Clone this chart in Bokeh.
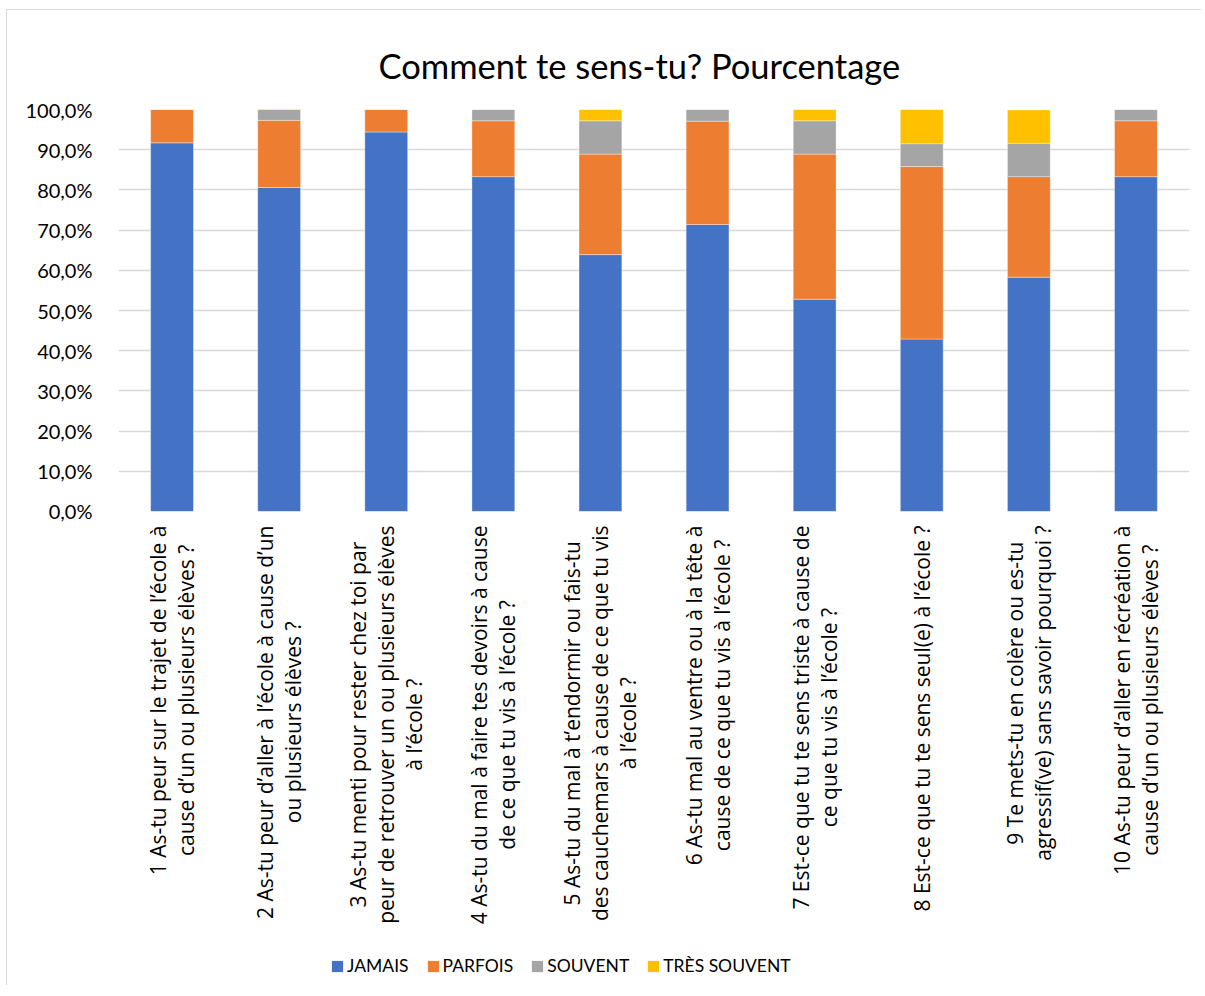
import math
from bokeh.plotting import figure
from bokeh.layouts import column
from bokeh.models import (FactorRange, Range1d, FixedTicker, ColumnDataSource,
                          Legend, LegendItem)
from bokeh.core.properties import value
from bokeh.embed import file_html
from bokeh.resources import INLINE

categories = [
    "1 As-tu peur sur le trajet de l’école à\ncause d’un ou plusieurs élèves ?",
    "2 As-tu peur d’aller à l’école à cause d’un\nou plusieurs élèves ?",
    "3 As-tu menti pour rester chez toi par\npeur de retrouver un ou plusieurs élèves\nà l’école ?",
    "4 As-tu du mal à faire tes devoirs à cause\nde ce que tu vis à l’école ?",
    "5 As-tu du mal à t’endormir ou fais-tu\ndes cauchemars à cause de ce que tu vis\nà l’école ?",
    "6 As-tu mal au ventre ou à la tête à\ncause de ce que tu vis à l’école ?",
    "7 Est-ce que tu te sens triste à cause de\nce que tu vis à l’école ?",
    "8 Est-ce que tu te sens seul(e) à l’école ?",
    "9 Te mets-tu en colère ou es-tu\nagressif(ve) sans savoir pourquoi ?",
    "10 As-tu peur d’aller en récréation à\ncause d’un ou plusieurs élèves ?",
]
jamais = [91.7, 80.6, 94.4, 83.3, 63.9, 71.4, 52.8, 42.9, 58.3, 83.3]
parfois = [8.3, 16.7, 5.6, 13.9, 25.0, 25.7, 36.1, 42.9, 25.0, 13.9]
souvent = [0.0, 2.8, 0.0, 2.8, 8.3, 2.9, 8.3, 5.7, 8.3, 2.8]
tres_souvent = [0.0, 0.0, 0.0, 0.0, 2.8, 0.0, 2.8, 8.6, 8.3, 0.0]
series_names = ["JAMAIS", "PARFOIS", "SOUVENT", "TRÈS SOUVENT"]
colors = ["#4472C4", "#ED7D31", "#A5A5A5", "#FFC000"]
y_ticks = [0, 10, 20, 30, 40, 50, 60, 70, 80, 90, 100]
y_tick_labels = ["0,0%", "10,0%", "20,0%", "30,0%", "40,0%", "50,0%",
                 "60,0%", "70,0%", "80,0%", "90,0%", "100,0%"]

source = ColumnDataSource(dict(cat=categories, JAMAIS=jamais, PARFOIS=parfois,
                               SOUVENT=souvent, **{"TRÈS SOUVENT": tres_souvent}))

BORDER = "1px solid #D9D9D9"

# ---- main chart (bars, y axis, title) ----
p = figure(frame_width=1070, frame_height=401, output_backend="svg",
           toolbar_location=None, x_range=FactorRange(factors=categories),
           y_range=Range1d(0, 100), x_axis_location=None,
           min_border_left=111, min_border_right=13, min_border_top=99,
           min_border_bottom=12, title="Comment te sens-tu? Pourcentage")

renderers = p.vbar_stack(series_names, x="cat", width=0.4, source=source,
                         color=colors, line_color="white", line_width=0.6,
                         line_alpha=0.6)

p.title.align = "left"
p.title.offset = 260
p.title.text_font = "Lato"
p.title.text_font_style = "normal"
p.title.text_font_size = "34.5px"
p.title.text_color = "#000000"
p.title.standoff = 48

p.outline_line_color = None
p.xgrid.grid_line_color = None
p.ygrid.grid_line_color = "#D9D9D9"
p.ygrid.grid_line_width = 1.3

p.yaxis.ticker = FixedTicker(ticks=y_ticks)
p.yaxis.major_label_overrides = {t: l for t, l in zip(y_ticks, y_tick_labels)}
p.yaxis.axis_line_color = None
p.yaxis.major_tick_line_color = None
p.yaxis.minor_tick_line_color = None
p.yaxis.major_label_text_font = "Lato"
p.yaxis.major_label_text_font_size = "20px"
p.yaxis.major_label_text_color = "#000000"
p.yaxis.major_label_standoff = 20
p.styles = {"border-left": BORDER, "border-top": BORDER}

# ---- category labels and legend, sharing the same x scale ----
q = figure(frame_width=1070, frame_height=463, output_backend="svg",
           toolbar_location=None, x_range=p.x_range, y_range=Range1d(0, 463),
           x_axis_location=None, y_axis_location=None, title=None,
           min_border_left=111, min_border_right=13, min_border_top=0,
           min_border_bottom=0)
q.grid.visible = False
q.outline_line_color = None

q.text(x="cat", y=460, text="cat", source=source, angle=math.pi / 2,
       anchor="center_right", text_align="center", text_baseline="middle",
       text_font=value("Open Sans"), text_font_size="21px",
       text_line_height=1.0, text_color="#000000")

# zero-width copies of the stacks: they carry the legend swatches only
swatches = q.vbar_stack(series_names, x="cat", width=0, source=source,
                        fill_color=colors, line_color=None)
legend = Legend(items=[LegendItem(label=n, renderers=[r])
                       for n, r in zip(series_names, swatches)],
                orientation="horizontal", location=(212, 9),
                border_line_color=None, background_fill_alpha=0,
                label_text_font="Lato", label_text_font_size="17.5px",
                label_text_color="#000000", glyph_width=14, glyph_height=14,
                spacing=17, label_standoff=3, padding=0, margin=0)
q.add_layout(legend)
q.styles = {"border-left": BORDER}

layout = column(p, q, spacing=0)
layout.styles = {"margin-left": "6px", "margin-top": "9px"}

open("out.html", "w").write(file_html(layout, INLINE))
